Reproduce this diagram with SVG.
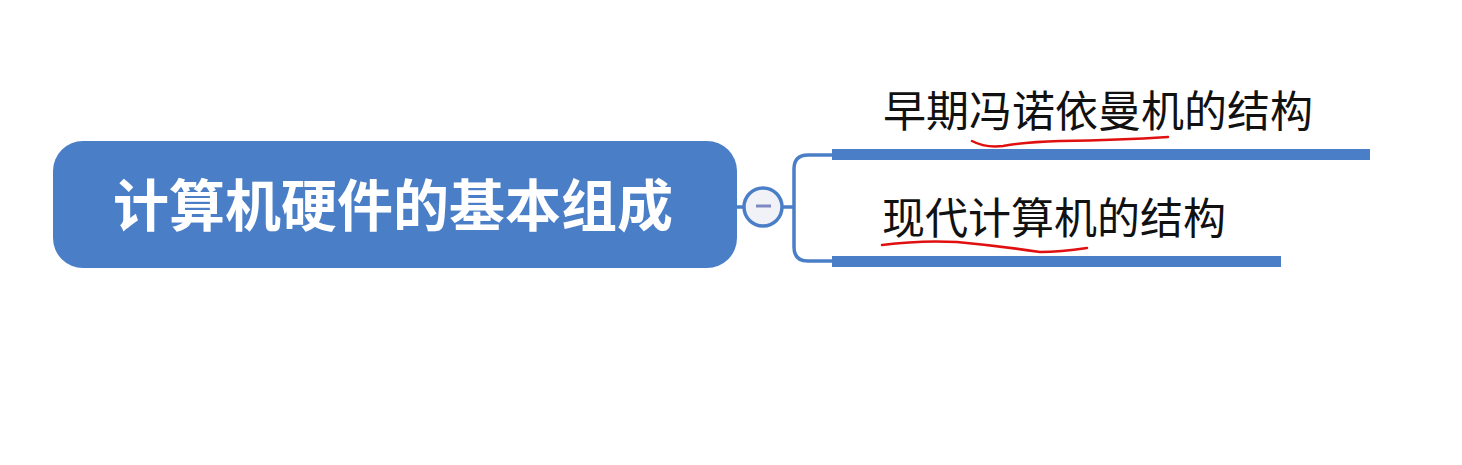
<svg xmlns="http://www.w3.org/2000/svg" width="1462" height="465" viewBox="0 0 1462 465">
<style>
.main{font-family:"Noto Sans CJK SC","Noto Sans",sans-serif;font-weight:bold;font-size:56px;fill:#ffffff}
.sub{font-family:"Noto Sans CJK SC","Noto Sans",sans-serif;font-weight:normal;font-size:43px;fill:#111111}
.bar{fill:#4a7fc8}
.conn{fill:none;stroke:#4a7fc8;stroke-width:3.5}
.ink{fill:none;stroke:#e01010;stroke-width:2.5;stroke-linecap:round}
</style>
<rect width="1462" height="465" fill="#ffffff"/>
<g id="connectors">
<line class="conn" x1="737" y1="207" x2="743" y2="207"/>
<path class="conn" d="M783 207 H794 M832 155 H808 Q794 155 794 169 V247 Q794 261 808 261 H832"/>
</g>
<g id="root">
<rect x="53" y="141" width="684" height="127" rx="30" ry="30" fill="#4a7fc8"/>
<text class="main" x="113" y="226">计算机硬件的基本组成</text>
</g>
<g id="collapse">
<circle cx="763" cy="207" r="19" fill="#f0f2f7" stroke="#4a7fc8" stroke-width="3.5"/>
<line x1="756" y1="206" x2="771" y2="206" stroke="#7f88c0" stroke-width="3"/>
</g>
<g id="node1">
<text class="sub" x="883" y="127">早期冯诺依曼机的结构</text>
<rect class="bar" x="832" y="149" width="538" height="11"/>
</g>
<g id="node2">
<text class="sub" x="882" y="234">现代计算机的结构</text>
<rect class="bar" x="832" y="256" width="449" height="11"/>
</g>
<g id="annotations">
<path class="ink" d="M972 141 Q985 148 1003 146 Q1025 142 1060 141 Q1120 140 1168 137"/>
<path class="ink" d="M882 245 Q920 240 957 242 Q1000 246 1040 252 Q1060 252 1087 248"/>
</g>
</svg>
